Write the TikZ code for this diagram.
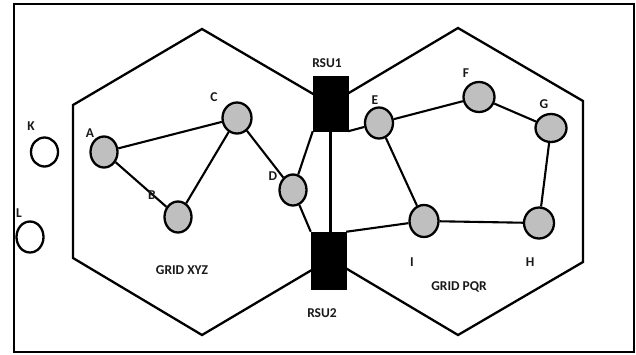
\documentclass[tikz,border=0pt]{standalone}
\usepackage{fontspec}
\setmainfont{Carlito}
\usetikzlibrary{shapes.geometric}

\begin{document}
\begin{tikzpicture}[x=1pt,y=-1pt,
  frameline/.style={line width=2.6pt},
  hexline/.style={line width=2.3pt, line join=miter},
  vehicle/.style={ellipse, draw, line width=2.3pt, fill=gray!50, inner sep=0pt,
                  minimum width=27pt, minimum height=31pt},
  idle/.style={ellipse, draw, line width=2.3pt, fill=white, inner sep=0pt,
               minimum width=27pt, minimum height=29pt},
  rsu/.style={rectangle, draw, fill=black, inner sep=0pt, line width=0.5pt},
  link/.style={line width=2.1pt},
  lbl/.style={font=\fontsize{13.5}{15}\selectfont\bfseries, inner sep=0pt, text=black!90}
]
\useasboundingbox (0,0) rectangle (636,354);

% outer frame
\draw[frameline] (14,4) rectangle (634,352);

% the two grid cells (their common edge is covered by the RSU link)
\draw[hexline] (332,105) -- (202,29) -- (73,105) -- (73,258) -- (202,335) -- (332,258);
\draw[hexline] (332,103) -- (458,28) -- (583,101) -- (583,262) -- (458,335) -- (332,260);

% road side units
\node[rsu, minimum width=35pt, minimum height=55pt] (rsu1) at (330.5,103.5) {};
\node[rsu, minimum width=35pt, minimum height=57pt] (rsu2) at (328.5,260.5) {};

% vehicles
\node[vehicle] (A) at (104,152) {};
\node[vehicle] (B) at (178,217) {};
\node[vehicle, minimum width=29pt] (C) at (237,118) {};
\node[vehicle] (D) at (293,190) {};
\node[vehicle, minimum width=28pt] (E) at (379,123) {};
\node[vehicle, minimum width=31pt, minimum height=30pt] (F) at (479,97) {};
\node[vehicle, minimum width=31pt, minimum height=28pt] (G) at (551,128) {};
\node[vehicle, minimum width=30pt, minimum height=31pt] (H) at (539,223) {};
\node[vehicle, minimum width=29pt, minimum height=32pt] (I) at (424,221) {};
\node[idle] (K) at (44.5,152) {};
\node[idle, minimum height=31pt] (L) at (30,237) {};

% links
\draw[link] (A) -- (C);
\draw[link] (A) -- (B);
\draw[link] (B) -- (C);
\draw[link] (C) -- (D);
\draw[link] (D) -- (rsu1.south west);
\draw[link] (D) -- (rsu2.north west);
\draw[link] (rsu1.south) -- (rsu1.south |- rsu2.north);
\draw[link] (rsu1.south east) -- (E);
\draw[link] (rsu2.north east) -- (I);
\draw[link] (E) -- (F);
\draw[link] (F) -- (G);
\draw[link] (G) -- (H);
\draw[link] (H) -- (I);
\draw[link] (E) -- (I);

% labels
\node[lbl] (lA) at (90,133) {A};
\node[lbl] (lB) at (152,195) {B};
\node[lbl] (lC) at (214,97) {C};
\node[lbl] (lD) at (273,176) {D};
\node[lbl] (lK) at (31,126) {K};
\node[lbl] (lL) at (19,213) {L};
\node[lbl] (lE) at (375,100) {E};
\node[lbl] (lF) at (466,73) {F};
\node[lbl] (lG) at (544,104) {G};
\node[lbl] (lH) at (530,262) {H};
\node[lbl] (lI) at (412,262) {I};
\node[lbl] (lrsu1) at (327,63) {RSU1};
\node[lbl] (lrsu2) at (322,313) {RSU2};
\node[lbl] (gxyz) at (182,270) {GRID XYZ};
\node[lbl] (gpqr) at (459,287) {GRID PQR};
\end{tikzpicture}
\end{document}
